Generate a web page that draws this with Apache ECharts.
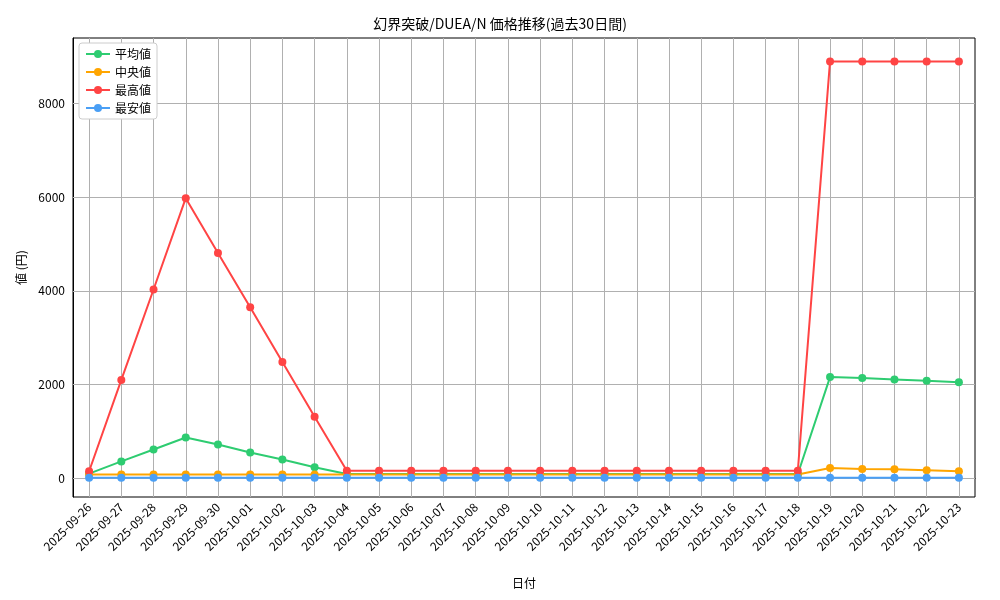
<html>
<head>
<meta charset="UTF-8">
<title>価格推移</title>
<script src="https://cdn.jsdelivr.net/npm/echarts@6/dist/echarts.min.js"></script>
</head>
<body style="margin:0">
<div id="main" style="width:1000px;height:600px;"></div>
<script>
var dates = ['2025-09-26','2025-09-27','2025-09-28','2025-09-29','2025-09-30','2025-10-01','2025-10-02','2025-10-03','2025-10-04','2025-10-05','2025-10-06','2025-10-07','2025-10-08','2025-10-09','2025-10-10','2025-10-11','2025-10-12','2025-10-13','2025-10-14','2025-10-15','2025-10-16','2025-10-17','2025-10-18','2025-10-19','2025-10-20','2025-10-21','2025-10-22','2025-10-23'];
var avgValues = [100,360,615,870,720,550,400,235,90,90,90,90,90,90,90,90,90,90,90,90,90,90,90,2160,2140,2110,2080,2050];
var medValues = [80,80,80,80,80,80,80,80,80,80,80,80,80,80,80,80,80,80,80,80,80,80,80,220,200,190,170,150];
var maxValues = [150,2100,4030,5980,4810,3650,2480,1315,160,160,160,160,160,160,160,160,160,160,160,160,160,160,160,8900,8900,8900,8900,8900];
var minValues = [10,10,10,10,10,10,10,10,10,10,10,10,10,10,10,10,10,10,10,10,10,10,10,10,10,10,10,10];
var gridValues = [0,2000,4000,6000,8000];

var font = 'Noto Sans CJK JP, DejaVu Sans';
function line(name, data, color, withGrid) {
    var s = {
        name: name, type: 'line', data: data, symbol: 'circle', symbolSize: 8,
        itemStyle: {color: color}, lineStyle: {color: color, width: 2}, z: 3
    };
    if (withGrid) {
        // 格子線 (横: 2000刻み, 縦: 各日付)
        s.markLine = {
            silent: true, symbol: 'none', label: {show: false}, z: 1, animation: false,
            lineStyle: {color: '#b0b0b0', type: 'solid', width: 1},
            data: gridValues.map(function (v) { return {yAxis: v}; })
                .concat(dates.map(function (d) { return {xAxis: d}; }))
        };
    }
    return s;
}
var myChart = echarts.init(document.getElementById('main'));
myChart.setOption({
    animation: false,
    textStyle: {fontFamily: font},
    title: {text: '幻界突破/DUEA/N 価格推移(過去30日間)', left: 'center', top: 12,
        textStyle: {fontSize: 14, fontWeight: 'normal', color: '#000', fontFamily: font}},
    legend: {left: 79, top: 43, orient: 'vertical', itemGap: 6, itemWidth: 24, itemHeight: 10,
        borderColor: '#ccc', borderWidth: 1, borderRadius: 3, padding: [5, 6],
        backgroundColor: '#fff',
        textStyle: {fontSize: 12, color: '#000', fontFamily: font},
        data: ['平均値', '中央値', '最高値', '最安値']},
    grid: {left: 73, right: 25, top: 38, bottom: 103, show: true, borderColor: '#000', borderWidth: 1},
    xAxis: {type: 'category', data: dates, boundaryGap: true, name: '日付', nameLocation: 'middle', nameGap: 80,
        nameTextStyle: {color: '#000', fontSize: 12},
        axisLine: {lineStyle: {color: '#000'}}, axisTick: {alignWithLabel: true, lineStyle: {color: '#000'}},
        axisLabel: {rotate: 45, color: '#000', fontSize: 12, interval: 0},
        splitLine: {show: false}},
    yAxis: {type: 'value', min: -400, max: 9400, interval: 400, name: '値 (円)', nameLocation: 'middle', nameGap: 45,
        nameTextStyle: {color: '#000', fontSize: 12},
        axisLine: {show: true, lineStyle: {color: '#000'}}, axisTick: {show: false},
        axisLabel: {color: '#000', fontSize: 12, formatter: function (v) { return v % 2000 === 0 ? String(v) : ''; }},
        splitLine: {show: false}},
    series: [
        line('平均値', avgValues, '#2ecc71', true),
        line('中央値', medValues, '#ffa500', false),
        line('最高値', maxValues, '#ff4444', false),
        line('最安値', minValues, '#4a9ff5', false)
    ]
});
</script>
</body>
</html>
